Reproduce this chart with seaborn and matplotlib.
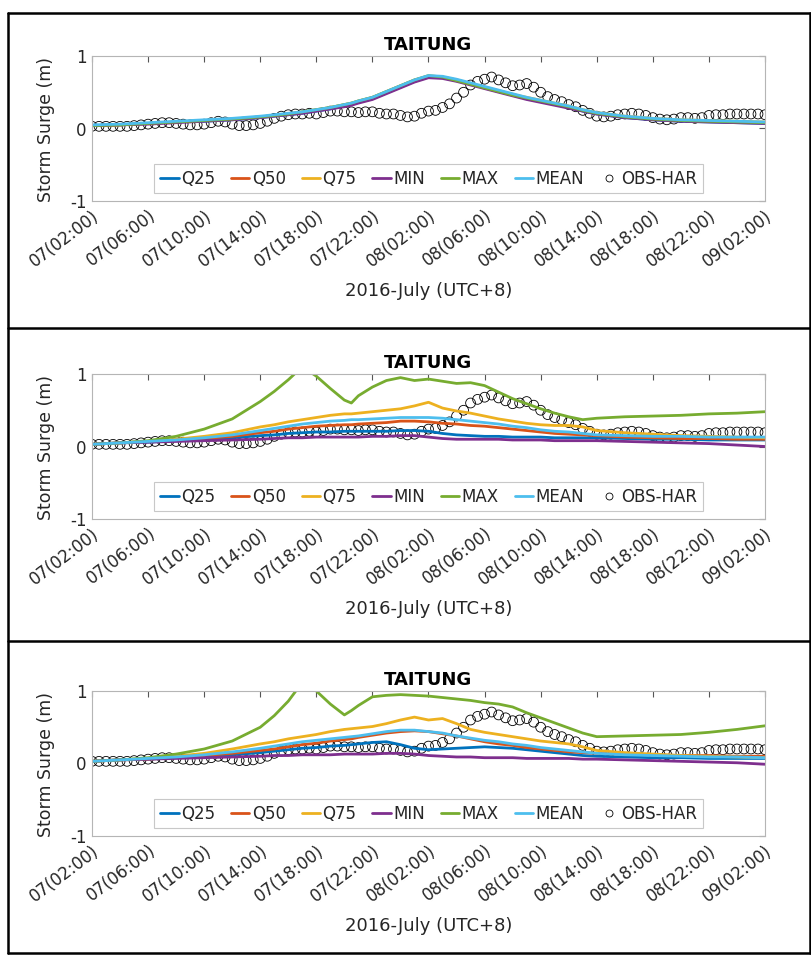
import numpy as np
import pandas as pd
import matplotlib
matplotlib.use("Agg")
import matplotlib.pyplot as plt
from matplotlib.lines import Line2D
import matplotlib.transforms as mtransforms
import seaborn as sns

# ---------------------------------------------------------------- data
STATION = "TAITUNG"
XLABEL = "2016-July (UTC+8)"
YLABEL = "Storm Surge (m)"
XTICKS = [0, 4, 8, 12, 16, 20, 24, 28, 32, 36, 40, 44, 48]
XTICKLABELS = ["07(02:00)", "07(06:00)", "07(10:00)", "07(14:00)", "07(18:00)",
               "07(22:00)", "08(02:00)", "08(06:00)", "08(10:00)", "08(14:00)",
               "08(18:00)", "08(22:00)", "09(02:00)"]
YTICKS = [-1, 0, 1]

SERIES = ["Q25", "Q50", "Q75", "MIN", "MAX", "MEAN"]
COLORS = ["#0072BD", "#D95319", "#EDB120", "#7E2F8E", "#77AC30", "#4DBEEE"]

# hours after 07(02:00) at which the ensemble statistics are given
HOURS = [0, 2, 4, 6, 8, 10, 12, 13, 14, 15, 16, 17, 18, 18.5, 19, 20,
         21, 22, 23, 24, 25, 26, 27, 28, 29, 30, 31, 32, 33, 34, 35, 36,
         38, 40, 42, 44, 46, 48]

# ensemble A
Q25_A = [0.04, 0.05, 0.07, 0.09, 0.10, 0.12, 0.15, 0.17, 0.19, 0.21, 0.24, 0.27, 0.31,
         0.33, 0.36, 0.41, 0.49, 0.57, 0.65, 0.71, 0.70, 0.66, 0.61, 0.56, 0.51, 0.46,
         0.41, 0.37, 0.33, 0.29, 0.24, 0.20, 0.15, 0.12, 0.10, 0.09, 0.08, 0.07]
Q50_A = [0.04, 0.05, 0.07, 0.09, 0.11, 0.13, 0.16, 0.18, 0.20, 0.22, 0.25, 0.28, 0.32,
         0.34, 0.37, 0.42, 0.50, 0.58, 0.66, 0.72, 0.71, 0.67, 0.62, 0.57, 0.52, 0.47,
         0.42, 0.38, 0.34, 0.30, 0.25, 0.21, 0.16, 0.13, 0.11, 0.10, 0.09, 0.08]
Q75_A = [0.04, 0.05, 0.07, 0.09, 0.11, 0.13, 0.16, 0.18, 0.20, 0.23, 0.26, 0.29, 0.33,
         0.35, 0.38, 0.43, 0.51, 0.59, 0.67, 0.72, 0.71, 0.67, 0.62, 0.57, 0.52, 0.47,
         0.43, 0.39, 0.35, 0.31, 0.26, 0.22, 0.17, 0.14, 0.12, 0.11, 0.10, 0.09]
MIN_A = [0.04, 0.05, 0.06, 0.08, 0.10, 0.12, 0.15, 0.17, 0.19, 0.21, 0.24, 0.27, 0.30,
         0.32, 0.35, 0.40, 0.48, 0.56, 0.64, 0.70, 0.69, 0.65, 0.60, 0.55, 0.50, 0.45,
         0.40, 0.36, 0.32, 0.28, 0.24, 0.20, 0.15, 0.12, 0.10, 0.09, 0.08, 0.07]
MAX_A = [0.04, 0.05, 0.07, 0.09, 0.11, 0.13, 0.16, 0.18, 0.20, 0.23, 0.26, 0.29, 0.33,
         0.35, 0.38, 0.43, 0.51, 0.59, 0.67, 0.73, 0.71, 0.66, 0.61, 0.56, 0.51, 0.46,
         0.42, 0.38, 0.34, 0.30, 0.25, 0.21, 0.16, 0.13, 0.11, 0.10, 0.09, 0.08]
MEAN_A = [0.05, 0.06, 0.08, 0.10, 0.12, 0.14, 0.17, 0.19, 0.21, 0.23, 0.26, 0.29, 0.33,
          0.35, 0.38, 0.43, 0.51, 0.59, 0.67, 0.73, 0.72, 0.68, 0.63, 0.58, 0.53, 0.48,
          0.43, 0.39, 0.35, 0.31, 0.26, 0.22, 0.17, 0.14, 0.12, 0.11, 0.10, 0.09]

# ensemble B
Q25_B = [0.03, 0.05, 0.06, 0.08, 0.10, 0.12, 0.15, 0.16, 0.18, 0.19, 0.20, 0.20, 0.21,
         0.21, 0.21, 0.21, 0.21, 0.22, 0.22, 0.21, 0.18, 0.16, 0.15, 0.14, 0.14, 0.13,
         0.13, 0.13, 0.12, 0.12, 0.12, 0.12, 0.11, 0.10, 0.10, 0.09, 0.09, 0.09]
Q50_B = [0.03, 0.05, 0.07, 0.08, 0.11, 0.14, 0.19, 0.21, 0.24, 0.26, 0.28, 0.29, 0.30,
         0.30, 0.31, 0.32, 0.33, 0.35, 0.35, 0.34, 0.32, 0.31, 0.29, 0.28, 0.26, 0.24,
         0.22, 0.20, 0.18, 0.17, 0.16, 0.15, 0.13, 0.12, 0.11, 0.11, 0.10, 0.10]
Q75_B = [0.03, 0.05, 0.07, 0.10, 0.14, 0.19, 0.27, 0.30, 0.34, 0.37, 0.40, 0.43, 0.45,
         0.45, 0.46, 0.48, 0.50, 0.52, 0.56, 0.61, 0.53, 0.49, 0.46, 0.42, 0.38, 0.35,
         0.32, 0.30, 0.29, 0.29, 0.27, 0.22, 0.19, 0.17, 0.15, 0.14, 0.13, 0.12]
MIN_B = [0.03, 0.05, 0.06, 0.07, 0.08, 0.09, 0.10, 0.11, 0.12, 0.12, 0.13, 0.13, 0.13,
         0.13, 0.13, 0.14, 0.14, 0.15, 0.15, 0.13, 0.11, 0.10, 0.10, 0.10, 0.10, 0.09,
         0.09, 0.09, 0.08, 0.08, 0.08, 0.08, 0.07, 0.06, 0.05, 0.04, 0.02, 0.00]
MAX_B = [0.03, 0.05, 0.08, 0.14, 0.24, 0.38, 0.62, 0.76, 0.92, 1.10, 0.97, 0.80, 0.64,
         0.60, 0.70, 0.82, 0.91, 0.95, 0.91, 0.93, 0.90, 0.87, 0.88, 0.84, 0.75, 0.66,
         0.59, 0.52, 0.46, 0.41, 0.37, 0.39, 0.41, 0.42, 0.43, 0.45, 0.46, 0.48]
MEAN_B = [0.03, 0.05, 0.07, 0.09, 0.12, 0.16, 0.22, 0.25, 0.28, 0.31, 0.33, 0.35, 0.36,
          0.37, 0.37, 0.38, 0.39, 0.40, 0.40, 0.40, 0.39, 0.37, 0.35, 0.33, 0.31, 0.28,
          0.26, 0.23, 0.21, 0.20, 0.18, 0.16, 0.15, 0.14, 0.14, 0.13, 0.13, 0.13]

# ensemble C
Q25_C = [0.03, 0.05, 0.06, 0.08, 0.10, 0.12, 0.15, 0.17, 0.19, 0.21, 0.22, 0.24, 0.25,
         0.26, 0.27, 0.29, 0.30, 0.26, 0.21, 0.19, 0.20, 0.21, 0.22, 0.23, 0.22, 0.21,
         0.19, 0.17, 0.15, 0.13, 0.11, 0.10, 0.09, 0.08, 0.08, 0.07, 0.07, 0.07]
Q50_C = [0.03, 0.05, 0.06, 0.08, 0.11, 0.14, 0.18, 0.20, 0.23, 0.26, 0.28, 0.31, 0.33,
         0.34, 0.36, 0.39, 0.42, 0.44, 0.45, 0.44, 0.41, 0.38, 0.34, 0.30, 0.27, 0.25,
         0.22, 0.20, 0.18, 0.16, 0.15, 0.14, 0.13, 0.12, 0.11, 0.11, 0.10, 0.10]
Q75_C = [0.03, 0.05, 0.07, 0.10, 0.14, 0.20, 0.27, 0.30, 0.34, 0.37, 0.40, 0.44, 0.47,
         0.48, 0.49, 0.51, 0.55, 0.60, 0.64, 0.60, 0.62, 0.55, 0.47, 0.43, 0.40, 0.37,
         0.34, 0.31, 0.29, 0.27, 0.23, 0.18, 0.15, 0.13, 0.11, 0.10, 0.09, 0.08]
MIN_C = [0.03, 0.05, 0.06, 0.07, 0.08, 0.09, 0.10, 0.11, 0.11, 0.12, 0.12, 0.12, 0.13,
         0.13, 0.13, 0.13, 0.14, 0.14, 0.13, 0.11, 0.10, 0.09, 0.09, 0.08, 0.08, 0.08,
         0.07, 0.07, 0.07, 0.07, 0.06, 0.06, 0.05, 0.04, 0.03, 0.02, 0.01, -0.01]
MAX_C = [0.03, 0.05, 0.08, 0.13, 0.20, 0.31, 0.50, 0.66, 0.86, 1.12, 1.00, 0.82, 0.67,
         0.73, 0.80, 0.92, 0.94, 0.95, 0.94, 0.93, 0.91, 0.89, 0.87, 0.84, 0.82, 0.78,
         0.70, 0.63, 0.56, 0.49, 0.42, 0.37, 0.38, 0.39, 0.40, 0.43, 0.47, 0.52]
MEAN_C = [0.03, 0.05, 0.07, 0.09, 0.12, 0.16, 0.21, 0.24, 0.27, 0.30, 0.32, 0.34, 0.36,
          0.37, 0.38, 0.41, 0.44, 0.46, 0.46, 0.44, 0.42, 0.38, 0.35, 0.32, 0.30, 0.27,
          0.25, 0.22, 0.20, 0.18, 0.16, 0.14, 0.12, 0.11, 0.10, 0.09, 0.09, 0.08]

# observed surge (observation minus harmonic tide), every 30 minutes
OBS_HOURS = np.arange(0, 48.5, 0.5)
OBS_HAR = [0.03, 0.03, 0.03, 0.03, 0.03, 0.03, 0.04, 0.05, 0.06, 0.07,
           0.08, 0.08, 0.07, 0.06, 0.05, 0.05, 0.06, 0.08, 0.10, 0.09,
           0.06, 0.04, 0.04, 0.05, 0.07, 0.10, 0.14, 0.17, 0.19, 0.20,
           0.20, 0.21, 0.20, 0.22, 0.24, 0.24, 0.23, 0.23, 0.22, 0.23,
           0.23, 0.21, 0.20, 0.20, 0.18, 0.16, 0.17, 0.21, 0.24, 0.25,
           0.29, 0.34, 0.42, 0.50, 0.60, 0.65, 0.68, 0.71, 0.67, 0.63,
           0.59, 0.60, 0.62, 0.57, 0.50, 0.44, 0.40, 0.37, 0.33, 0.30,
           0.25, 0.21, 0.17, 0.16, 0.17, 0.19, 0.20, 0.21, 0.20, 0.18,
           0.15, 0.13, 0.12, 0.13, 0.15, 0.15, 0.14, 0.15, 0.18, 0.19,
           0.19, 0.20, 0.20, 0.20, 0.20, 0.20, 0.19]

PANELS = [
    [Q25_A, Q50_A, Q75_A, MIN_A, MAX_A, MEAN_A],
    [Q25_B, Q50_B, Q75_B, MIN_B, MAX_B, MEAN_B],
    [Q25_C, Q50_C, Q75_C, MIN_C, MAX_C, MEAN_C],
]

# ---------------------------------------------------------------- style
sns.set_style("white")
plt.rcParams["font.family"] = ["DejaVu Sans"]
plt.rcParams["axes.unicode_minus"] = False

W, H = 812, 955
fig = plt.figure(figsize=(W / 100, H / 100), dpi=100)

AX_LEFT, AX_WIDTH, AX_HEIGHT = 92, 673, 145
AX_TOPS = [56, 374, 691]
TEXT = "#262626"

for top, stats in zip(AX_TOPS, PANELS):
    ax = fig.add_axes([AX_LEFT / W, 1 - (top + AX_HEIGHT) / H, AX_WIDTH / W, AX_HEIGHT / H])

    frames = [pd.DataFrame({"hour": HOURS, "surge": vals, "series": name})
              for name, vals in zip(SERIES, stats)]
    df = pd.concat(frames, ignore_index=True)
    sns.lineplot(data=df, x="hour", y="surge", hue="series", hue_order=SERIES,
                 palette=COLORS, linewidth=2.0, legend=False, ax=ax, sort=False)
    obs = pd.DataFrame({"hour": OBS_HOURS, "surge": OBS_HAR})
    sns.scatterplot(data=obs, x="hour", y="surge", marker="o", s=50,
                    facecolor="none", edgecolor="black", linewidth=0.6,
                    legend=False, ax=ax)

    ax.set_xlim(0, 48)
    ax.set_ylim(-1, 1)
    ax.set_xticks(XTICKS)
    ax.set_xticklabels(XTICKLABELS, rotation=37, ha="right", va="top",
                       rotation_mode="anchor")
    shift = mtransforms.ScaledTranslation(7 / 100, -5 / 100, fig.dpi_scale_trans)
    for lab in ax.get_xticklabels():
        lab.set_transform(lab.get_transform() + shift)
    ax.set_yticks(YTICKS)
    ax.set_yticklabels([str(v) for v in YTICKS])
    ax.tick_params(axis="both", direction="in", top=True, right=True, length=4,
                   width=0.8, color="#555555", labelsize=12, labelcolor=TEXT, pad=4)
    for sp in ax.spines.values():
        sp.set_color("#b5b5b5")
        sp.set_linewidth(0.8)

    ax.set_title(STATION, fontsize=13, fontweight="bold", pad=4, color="black")
    ax.set_xlabel(XLABEL, fontsize=13, color=TEXT)
    ax.xaxis.set_label_coords(0.5, -0.56)
    ax.set_ylabel(YLABEL, fontsize=12.5, color=TEXT)
    ax.yaxis.set_label_coords(-0.055, 0.49)

    handles = [Line2D([], [], color=c, lw=2.0) for c in COLORS]
    handles.append(Line2D([], [], ls="none", marker="o", markersize=5,
                          markerfacecolor="none", markeredgecolor="black",
                          markeredgewidth=0.6))
    leg = ax.legend(handles, SERIES + ["OBS-HAR"], ncol=7, loc="center",
                    bbox_to_anchor=(0.5, 0.155), fontsize=12, handlelength=1.1,
                    handletextpad=0.15, columnspacing=0.95, borderpad=0.35,
                    frameon=True, fancybox=False, framealpha=1, edgecolor="#c8c8c8")
    leg.get_frame().set_linewidth(0.8)
    for t in leg.get_texts():
        t.set_color(TEXT)

# panel borders
def hline(y, x0=8, x1=810):
    fig.add_artist(Line2D([x0 / W, x1 / W], [1 - y / H, 1 - y / H],
                          transform=fig.transFigure, color="black", lw=1.8))

def vline(x, y0=13, y1=953):
    fig.add_artist(Line2D([x / W, x / W], [1 - y0 / H, 1 - y1 / H],
                          transform=fig.transFigure, color="black", lw=1.8))

for y in (13, 328, 641, 953):
    hline(y)
for x in (8, 810):
    vline(x)

fig.savefig("out.png", dpi=100)
